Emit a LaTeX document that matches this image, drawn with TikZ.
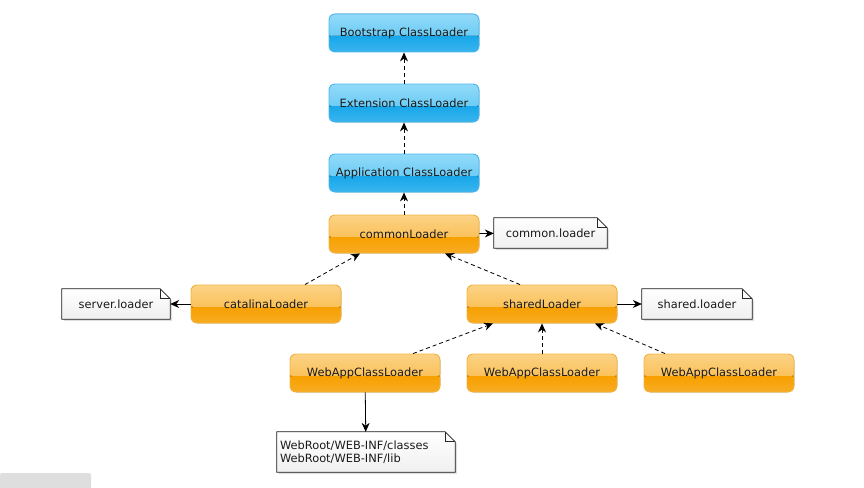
\documentclass[tikz,border=0pt]{standalone}
\usepackage{fontspec}
\setmainfont{DejaVu Sans}
\usetikzlibrary{arrows.meta,shadows,backgrounds}

\definecolor{bluetop}{HTML}{98DCF9}
\definecolor{bluemid}{HTML}{6CCCF5}
\definecolor{bluelow}{HTML}{18A7EA}
\definecolor{bluebase}{HTML}{3FB7EE}
\definecolor{blueedge}{HTML}{4DB6EE}
\definecolor{orangetop}{HTML}{FCD58C}
\definecolor{orangemid}{HTML}{FAC15A}
\definecolor{orangelow}{HTML}{F7A000}
\definecolor{orangebase}{HTML}{F8AE2A}
\definecolor{orangeedge}{HTML}{F3B443}
\definecolor{inkdark}{HTML}{1A1A1A}

% note outline with folded corner, drawn behind the node text
\newcommand\notepaper[1]{%
  \filldraw[draw=black!85, line width=0.8pt, top color=white, bottom color=black!6,
    drop shadow={shadow xshift=2pt, shadow yshift=-2pt, opacity=0.25, fill=black!50}]
    (#1.south west) -- (#1.north west) -- ([xshift=-10pt]#1.north east)
    -- ([yshift=-10pt]#1.north east) -- (#1.south east) -- cycle;
  \draw[black!85, line width=0.8pt] ([xshift=-10pt]#1.north east)
    -- ([xshift=-10pt,yshift=-10pt]#1.north east) -- ([yshift=-10pt]#1.north east);
}

% glossy two-tone filling for the loader boxes: #1 upper tone pair, #2 lower tone pair
\tikzset{
  gloss/.style n args={4}{
    path picture={
      \fill[#4] ([xshift=-3pt,yshift=3pt]path picture bounding box.north west)
        rectangle ([xshift=3pt,yshift=-3pt]path picture bounding box.south east);
      \fill[top color=#1, bottom color=#2]
        ([xshift=-3pt,yshift=3pt]path picture bounding box.north west)
        rectangle ([xshift=3pt,yshift=-3pt]path picture bounding box.east);
      \fill[top color=#3, bottom color=#4]
        ([xshift=-3pt,yshift=-3pt]path picture bounding box.west)
        rectangle ([xshift=3pt,yshift=-3pt]path picture bounding box.south east);
    }}
}

\begin{document}
\begin{tikzpicture}[x=1pt, y=-1pt,
  font=\fontsize{11.4}{13.5}\selectfont, text=inkdark,
  loader/.style={rounded corners=6pt, minimum width=150, minimum height=38,
    line width=0.9pt},
  bluebox/.style={loader, draw=blueedge,
    gloss={bluetop}{bluemid}{bluelow}{bluebase}},
  orangebox/.style={loader, draw=orangeedge,
    gloss={orangetop}{orangemid}{orangelow}{orangebase}},
  note/.style={minimum height=30, inner xsep=7, align=left},
  dep/.style={dash pattern=on 4pt off 3pt, line width=0.8pt,
    -{Stealth[length=9pt, width=8pt]}},
  ref/.style={line width=0.8pt, -{Stealth[length=9pt, width=8pt]}}
]
\useasboundingbox (0,0) rectangle (864,487);

% scrollbar remnant in the corner
\fill[black!13, rounded corners=2pt] (0,473) rectangle (91,490);

% JVM class loaders
\node[bluebox] (boot) at (404,33) {Bootstrap ClassLoader};
\node[bluebox] (ext)  at (404,103) {Extension ClassLoader};
\node[bluebox] (app)  at (404,173) {Application ClassLoader};

% Tomcat class loaders
\node[orangebox] (common)   at (404,234) {commonLoader};
\node[orangebox] (catalina) at (266,304) {catalinaLoader};
\node[orangebox] (shared)   at (542,304) {sharedLoader};
\node[orangebox] (web1) at (365,373) {WebAppClassLoader};
\node[orangebox] (web2) at (542,373) {WebAppClassLoader};
\node[orangebox] (web3) at (719,373) {WebAppClassLoader};

% property notes
\node[note, minimum width=113] (ncommon) at (550.5,233) {common.loader};
\node[note, minimum width=108] (nserver) at (116,304) {server.loader};
\node[note, minimum width=110] (nshared) at (697,304) {shared.loader};
\node[note, text width=172, inner xsep=3, minimum height=40, inner ysep=3] (nweb) at (366,452)
  {WebRoot/WEB-INF/classes\\WebRoot/WEB-INF/lib};

\begin{scope}[on background layer]
  \notepaper{ncommon}
  \notepaper{nserver}
  \notepaper{nshared}
  \notepaper{nweb}
\end{scope}

% parent delegation
\draw[dep] (ext) -- (boot);
\draw[dep] (app) -- (ext);
\draw[dep] (common) -- (app);
\draw[dep] ([xshift=39pt]catalina.north) -- ([xshift=-44pt]common.south);
\draw[dep] ([xshift=-22pt]shared.north) -- ([xshift=41pt]common.south);
\draw[dep] ([xshift=48pt]web1.north) -- ([xshift=-49pt]shared.south);
\draw[dep] (web2) -- (shared);
\draw[dep] ([xshift=-54pt]web3.north) -- ([xshift=53pt]shared.south);

% loader to configuration
\draw[ref] (common) -- (ncommon);
\draw[ref] (catalina) -- (nserver);
\draw[ref] (shared) -- (nshared);
\draw[ref] (web1) -- (nweb);
\end{tikzpicture}
\end{document}
